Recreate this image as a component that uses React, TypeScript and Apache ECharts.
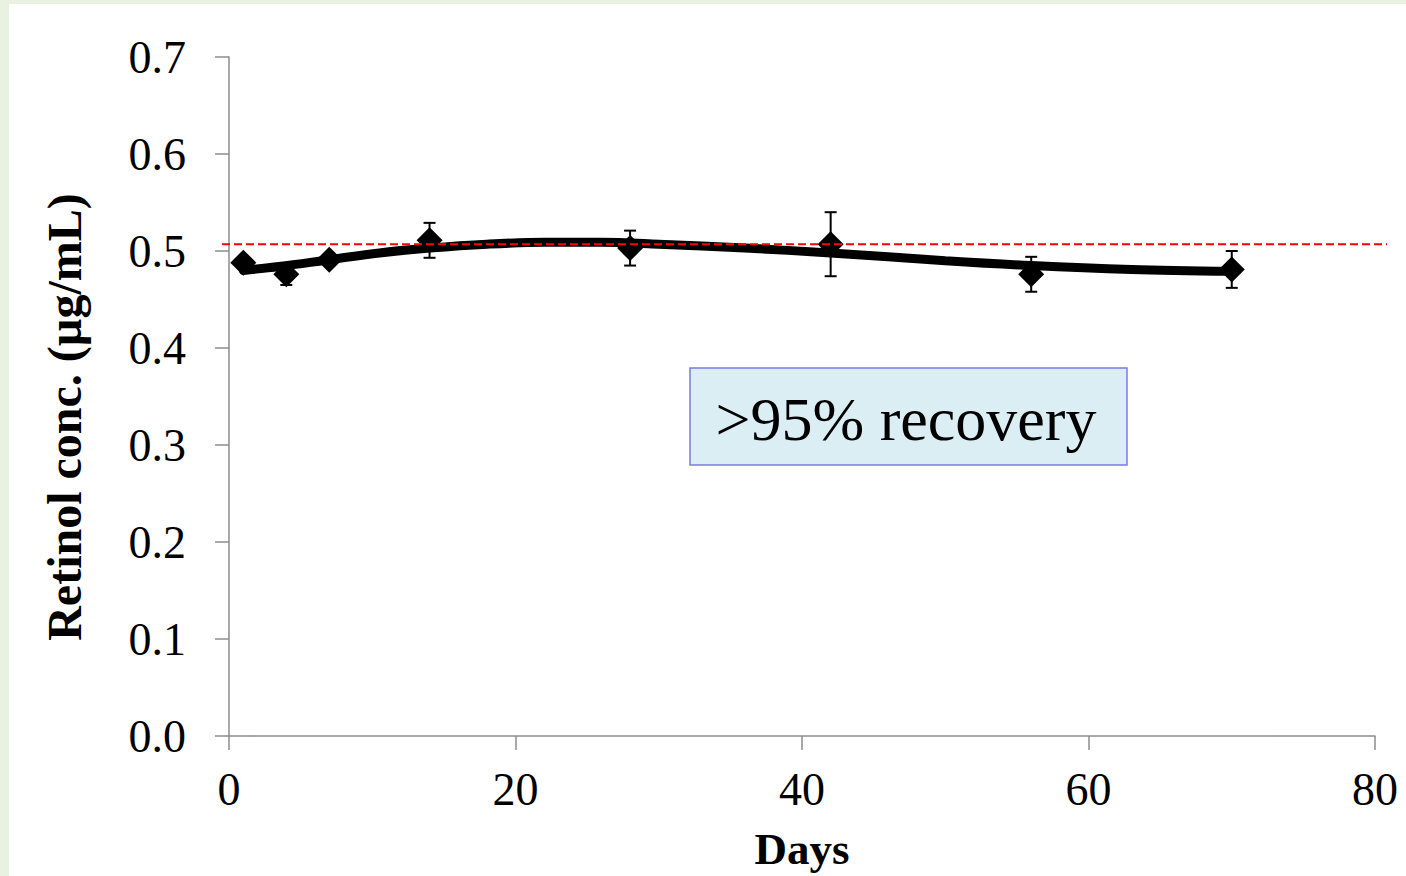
import React, { useEffect, useRef } from "react";
import * as echarts from "echarts";

// Measured points (day, mean retinol concentration, ± error)
const days = [1, 4, 7, 14, 28, 42, 56, 70];
const retinol = [0.488, 0.476, 0.491, 0.511, 0.503, 0.507, 0.476, 0.481];
const errors = [0.004, 0.011, 0.004, 0.018, 0.018, 0.033, 0.018, 0.019];

// Trend curve
const trendDays = [1, 3.5, 7, 10.5, 14, 18, 22, 26, 30, 36, 42, 50, 56, 63, 70];
const trendValues = [0.48, 0.484, 0.491, 0.498, 0.503, 0.507, 0.509, 0.509, 0.507, 0.503, 0.498, 0.49, 0.485, 0.481, 0.479];

// Reference (nominal) level
const referenceLevel = 0.507;

const annotation = ">95% recovery";
const xTitle = "Days";
const yTitle = "Retinol conc. (µg/mL)";

const FONT = '"Liberation Serif", "Times New Roman", serif';

export default function App() {
  const ref = useRef<HTMLDivElement>(null);

  useEffect(() => {
    if (!ref.current) return;
    const chart = echarts.init(ref.current, null, { renderer: "svg" });

    const axisGray = "#8c8c8c";

    chart.setOption({
      animation: false,
      backgroundColor: "transparent",
      grid: { left: 229, top: 57, right: 31, bottom: 140, containLabel: false },
      xAxis: {
        type: "value",
        min: 0,
        max: 80,
        interval: 20,
        name: xTitle,
        nameLocation: "middle",
        nameGap: 90,
        nameTextStyle: { fontFamily: FONT, fontSize: 45, fontWeight: "bold", color: "#000" },
        axisLine: { show: true, lineStyle: { color: axisGray, width: 1.5 } },
        axisTick: { show: true, length: 14, inside: false, lineStyle: { color: axisGray, width: 1.5 } },
        axisLabel: { fontFamily: FONT, fontSize: 46, color: "#000", margin: 30 },
        splitLine: { show: false },
      },
      yAxis: {
        type: "value",
        min: 0,
        max: 0.7,
        interval: 0.1,
        axisLine: { show: true, lineStyle: { color: axisGray, width: 1.5 } },
        axisTick: { show: true, length: 14, inside: false, lineStyle: { color: axisGray, width: 1.5 } },
        axisLabel: {
          fontFamily: FONT,
          fontSize: 46,
          color: "#000",
          margin: 43,
          formatter: (v: number) => v.toFixed(1),
        },
        splitLine: { show: false },
      },
      series: [
        {
          type: "line",
          name: "trend",
          data: trendDays.map((d, i) => [d, trendValues[i]]),
          smooth: 0.35,
          showSymbol: false,
          lineStyle: { color: "#000", width: 9, cap: "round" },
          z: 2,
          silent: true,
        },
        {
          type: "custom",
          name: "error",
          data: days.map((d, i) => [d, retinol[i], retinol[i] - errors[i], retinol[i] + errors[i]]),
          renderItem: (params: any, api: any) => {
            const x = api.value(0);
            const lo = api.coord([x, api.value(2)]);
            const hi = api.coord([x, api.value(3)]);
            const half = 6;
            const style = { stroke: "#000", lineWidth: 2 };
            return {
              type: "group",
              children: [
                { type: "line", shape: { x1: lo[0], y1: lo[1], x2: hi[0], y2: hi[1] }, style },
                { type: "line", shape: { x1: lo[0] - half, y1: lo[1], x2: lo[0] + half, y2: lo[1] }, style },
                { type: "line", shape: { x1: hi[0] - half, y1: hi[1], x2: hi[0] + half, y2: hi[1] }, style },
              ],
            };
          },
          z: 3,
          silent: true,
        },
        {
          type: "scatter",
          name: "retinol",
          data: days.map((d, i) => [d, retinol[i]]),
          symbol: "diamond",
          symbolSize: [26, 26],
          itemStyle: { color: "#000", opacity: 1 },
          z: 4,
          silent: true,
        },
      ],
    });

    const yRef = chart.convertToPixel({ gridIndex: 0 }, [0, referenceLevel])[1];

    chart.setOption({
      graphic: [
        {
          id: "refline",
          type: "line",
          shape: { x1: 222, y1: yRef, x2: 1387, y2: yRef },
          style: { stroke: "#ff0000", lineWidth: 2, lineDash: [8, 4] },
          z: 100,
          silent: true,
        },
        {
          id: "box",
          type: "rect",
          shape: { x: 690, y: 368, width: 437, height: 97 },
          style: { fill: "#dbeef3", stroke: "#7b7be6", lineWidth: 1.5 },
          z: 100,
        },
        {
          id: "boxtext",
          type: "text",
          x: 906,
          y: 419,
          style: {
            text: annotation,
            fontFamily: FONT,
            fontSize: 62,
            fill: "#000",
            align: "center",
            verticalAlign: "middle",
          },
          z: 101,
        },
        {
          id: "ytitle",
          type: "text",
          x: 64,
          y: 417,
          rotation: Math.PI / 2,
          style: {
            text: yTitle,
            fontFamily: FONT,
            fontSize: 48,
            fontWeight: "bold",
            fill: "#000",
            align: "center",
            verticalAlign: "middle",
          },
          z: 100,
        },
      ],
    });

    return () => chart.dispose();
  }, []);

  return (
    <div style={{ position: "fixed", left: 0, top: 0, width: 1406, height: 876, background: "#e9f2e0", overflow: "hidden" }}>
      <div style={{ position: "absolute", left: 9, top: 4, right: 0, bottom: 0, background: "#ffffff" }} />
      <div ref={ref} style={{ position: "absolute", left: 0, top: 0, width: 1406, height: 876 }} />
    </div>
  );
}
